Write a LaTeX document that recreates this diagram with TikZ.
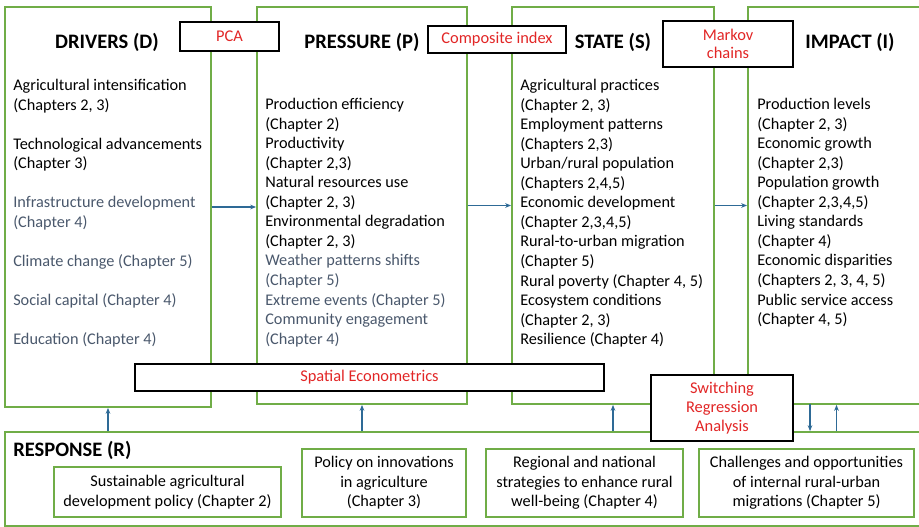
\documentclass[tikz,border=0pt]{standalone}
\usepackage{fontspec}
\setmainfont{Carlito}
\usetikzlibrary{arrows.meta,fit}
\definecolor{boxgreen}{RGB}{112,173,71}
\definecolor{arrblue}{RGB}{46,106,150}
\definecolor{methred}{RGB}{226,38,38}
\definecolor{txtgray}{RGB}{74,88,108}
\newcommand{\dimln}[1]{\textcolor{txtgray}{#1}}

\begin{document}
\begin{tikzpicture}[x=0.75pt, y=-0.75pt,
  dpsir/.style={draw=boxgreen, line width=1.3pt, inner sep=0pt},
  method/.style={draw=black, line width=1.3pt, fill=white, text=methred, align=center, inner sep=0pt, font=\fontsize{12.3}{14.5}\selectfont},
  head/.style={inner sep=0pt, font=\fontsize{15.4}{18}\selectfont\bfseries},
  items/.style={align=left, inner sep=0pt, anchor=north west, font=\fontsize{12.2}{14.66}\selectfont},
  policy/.style={draw=boxgreen, line width=1.3pt, align=center, inner sep=0pt, font=\fontsize{12.2}{14.66}\selectfont},
  flow/.style={draw=arrblue, line width=0.9pt, -{Stealth[length=4.5pt,width=3.5pt]}}]
  \useasboundingbox (0,0) rectangle (919,527);
  \clip (0,0) rectangle (919,527);
  % DPSIR boxes
  \node[dpsir, fit={(5,7) (211,407)}] (drv) {};
  \node[dpsir, fit={(257,7) (467,404)}] (prs) {};
  \node[dpsir, fit={(512,7) (714,404)}] (sta) {};
  \node[dpsir, fit={(748,7) (925,404)}] (imp) {};
  \node[dpsir, fit={(5,432) (930,526)}] (rsp) {};
  % headings
  \node[head] (drvhead) at (107,42) {DRIVERS (D)};
  \node[head] (prshead) at (362,42) {PRESSURE (P)};
  \node[head] (stahead) at (613,42) {STATE (S)};
  \node[head] (imphead) at (850,42) {IMPACT (I)};
  \node[head, anchor=west] (rsphead) at (13,450) {RESPONSE (R)};
  % lists
  \node[items] (drvlist) at (13,79) {Agricultural intensification\\(Chapters 2, 3)\\[14.66pt]
    Technological advancements\\(Chapter 3)\\[14.66pt]
    \dimln{Infrastructure development}\\\dimln{(Chapter 4)}\\[14.66pt]
    \dimln{Climate change (Chapter 5)}\\[14.66pt]
    \dimln{Social capital (Chapter 4)}\\[14.66pt]
    \dimln{Education (Chapter 4)}};
  \node[items] (prslist) at (265,98) {Production efficiency\\(Chapter 2)\\Productivity\\(Chapter 2,3)\\
    Natural resources use\\(Chapter 2, 3)\\Environmental degradation\\(Chapter 2, 3)\\
    \dimln{Weather patterns shifts}\\\dimln{(Chapter 5)}\\\dimln{Extreme events (Chapter 5)}\\
    \dimln{Community engagement}\\\dimln{(Chapter 4)}};
  \node[items] (stalist) at (520,79) {Agricultural practices\\(Chapter 2, 3)\\Employment patterns\\(Chapters 2,3)\\
    Urban/rural population\\(Chapters 2,4,5)\\Economic development\\(Chapter 2,3,4,5)\\
    Rural-to-urban migration\\(Chapter 5)\\Rural poverty (Chapter 4, 5)\\
    Ecosystem conditions\\(Chapter 2, 3)\\Resilience (Chapter 4)};
  \node[items] (implist) at (757,98) {Production levels\\(Chapter 2, 3)\\Economic growth\\(Chapter 2,3)\\
    Population growth\\(Chapter 2,3,4,5)\\Living standards\\(Chapter 4)\\
    Economic disparities\\(Chapters 2, 3, 4, 5)\\Public service access\\(Chapter 4, 5)};
  % response policies
  \node[policy, minimum width=170.25pt, minimum height=37.5pt] (sust) at (167.5,492) {Sustainable agricultural\\development policy (Chapter 2)};
  \node[policy, minimum width=123pt, minimum height=51pt] (innov) at (384,483) {Policy on innovations\\in agriculture\\(Chapter 3)};
  \node[policy, minimum width=147.75pt, minimum height=51pt] (regio) at (584.5,483) {Regional and national\\strategies to enhance rural\\well-being (Chapter 4)};
  \node[policy, minimum width=161.25pt, minimum height=51pt] (migr) at (806.5,483) {Challenges and opportunities\\of internal rural-urban\\migrations (Chapter 5)};
  % arrows
  \draw[flow] (drv.east) -- (drv.east -| prs.west);
  \draw[flow] (prs.east) -- (prs.east -| sta.west);
  \draw[flow] (sta.east) -- (sta.east -| imp.west);
  \draw[flow] (drv.south |- rsp.north) -- (drv.south);
  \draw[flow] (prs.south |- rsp.north) -- (prs.south);
  \draw[flow] (sta.south |- rsp.north) -- (sta.south);
  \draw[flow] (imp.south |- rsp.north) -- (imp.south);
  \coordinate (impdown) at (810,404);
  \draw[flow] (impdown) -- (impdown |- rsp.north);
  % methods
  \node[method, minimum width=74.25pt, minimum height=21.75pt] (pca) at (229.5,36.5) {PCA};
  \node[method, minimum width=103.5pt, minimum height=20.25pt] (comp) at (497,39.5) {Composite index};
  \node[method, minimum width=97.5pt, minimum height=34.5pt, font=\fontsize{12.3}{13.5}\selectfont] (markov) at (728,44) {Markov\\chains};
  \node[method, minimum width=351.75pt, minimum height=20.25pt] (spat) at (369.5,377.5) {Spatial Econometrics};
  \node[method, minimum width=106.5pt, minimum height=49.5pt] (switch) at (722,408) {Switching\\Regression\\Analysis};
\end{tikzpicture}
\end{document}
